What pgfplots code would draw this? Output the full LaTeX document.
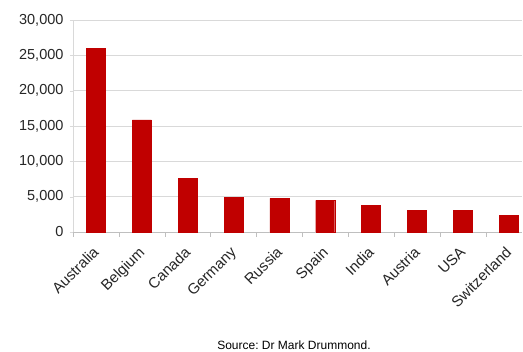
\documentclass[border=0pt]{standalone}
\usepackage{pgfplots}
\pgfplotsset{compat=1.18}
\usetikzlibrary{calc}
\usepackage{fontspec}
\setmainfont{Liberation Sans}
\definecolor{barred}{HTML}{C00000}
\definecolor{gridc}{HTML}{D9D9D9}
\definecolor{axc}{HTML}{BFBFBF}
\definecolor{txt}{HTML}{262626}
\begin{document}
\begin{tikzpicture}[x=1pt,y=1pt]
\begin{axis}[
  scale only axis,
  width=449pt, height=212pt,
  xmin=-0.5, xmax=9.29,
  ymin=0, ymax=30000,
  ytick={0,5000,...,30000},
  xtick={0,...,9},
  xticklabels={Australia,Belgium,Canada,Germany,Russia,Spain,India,Austria,USA,Switzerland},
  minor xtick={-0.5,0.5,...,8.5},
  major x tick style={draw=none},
  minor x tick style={draw=axc},
  minor tick length=5pt,
  major tick length=3pt,
  y tick style={draw=gridc},
  tick align=outside,
  xtick pos=lower, ytick pos=left,
  ymajorgrids,
  grid style={draw=gridc, line width=0.8pt},
  axis x line*=bottom,
  axis y line*=left,
  x axis line style={draw=axc, line width=0.8pt, -},
  y axis line style={draw=gridc, line width=0.8pt, -},
  /pgf/number format/assume math mode=true,
  /pgf/number format/1000 sep={,},
  scaled y ticks=false,
  yticklabel style={font=\fontsize{14.5}{16}\selectfont, text=txt, xshift=-3pt},
  xticklabel style={font=\fontsize{15}{16}\selectfont, text=txt, xshift=-4pt, yshift=-9pt, rotate=45, anchor=north east, inner sep=1pt},
  clip=false,
]
\addplot[ybar, bar width=19pt, fill=barred, draw=barred] coordinates {
  (0,26000) (1,15850) (2,7600) (3,4900) (4,4770) (5,4490) (6,3730) (7,3070) (8,3070) (9,2310)
};
\path (rel axis cs:0,0) ++(-73pt,-120pt) coordinate (bl);
\path (rel axis cs:1,1) ++(1pt,20pt) coordinate (tr);
\path[use as bounding box] (bl) rectangle (tr);
\node[font=\fontsize{12}{13}\selectfont, text=black] at ($(rel axis cs:0,0)+(221pt,-113pt)$) {Source:\ Dr Mark Drummond.};
\end{axis}
\end{tikzpicture}
\end{document}
